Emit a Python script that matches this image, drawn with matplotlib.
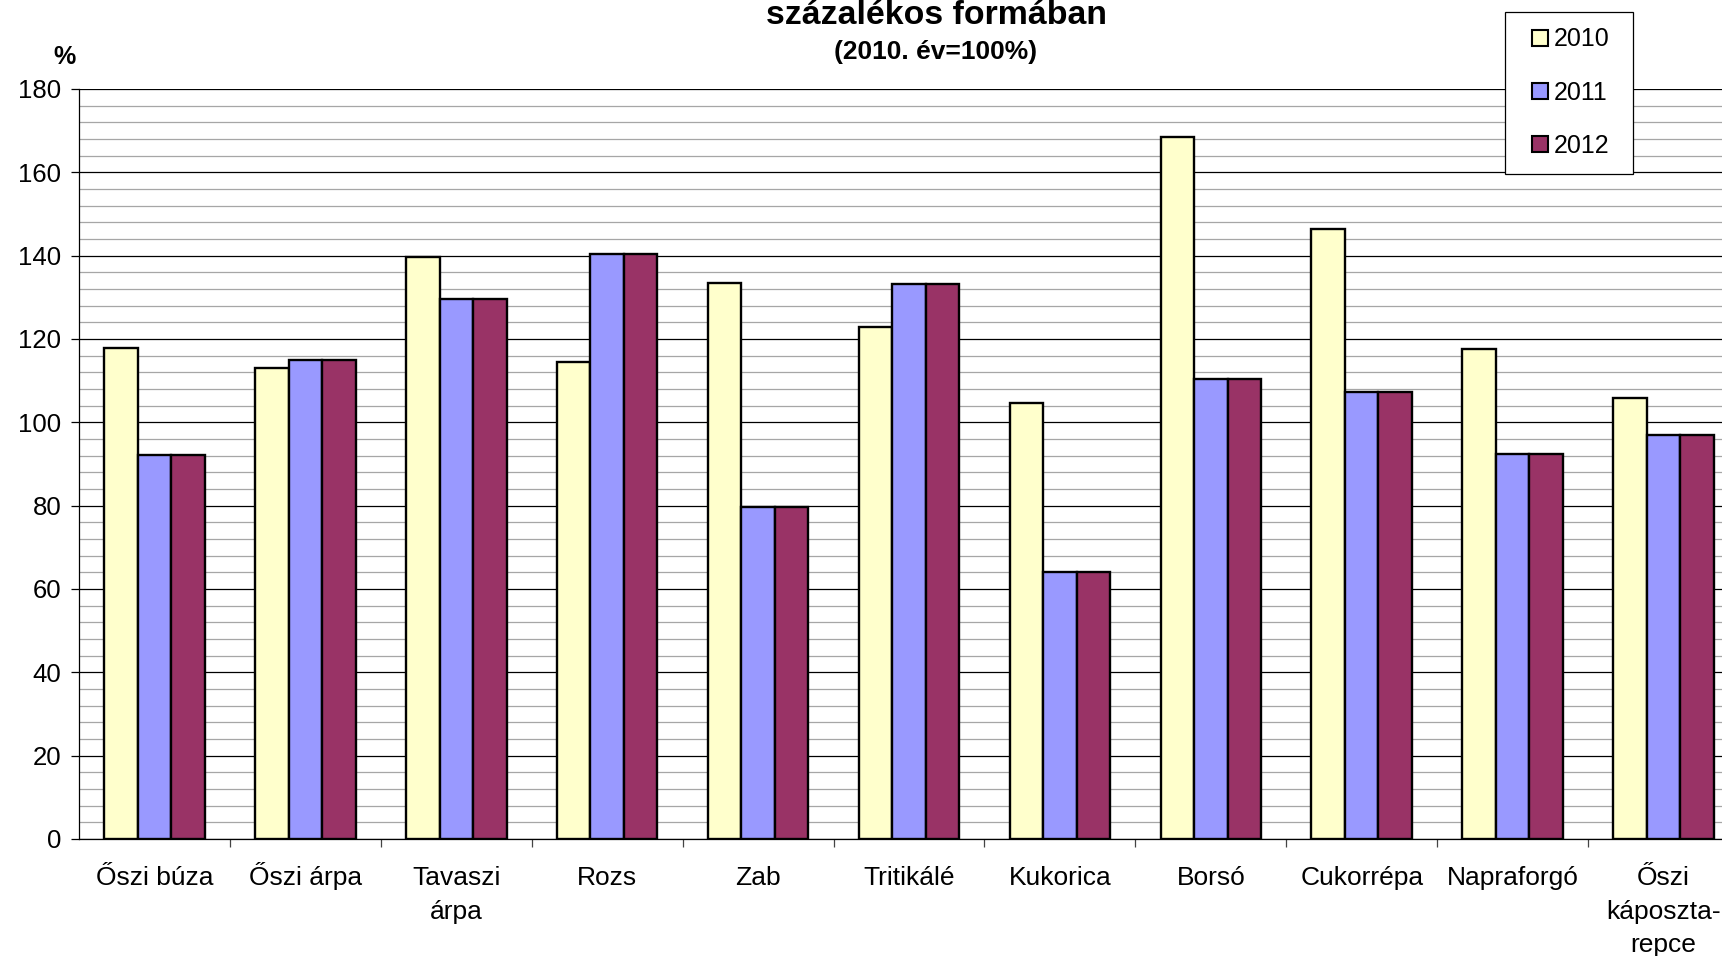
import numpy as np
import matplotlib
matplotlib.use('Agg')
import matplotlib.pyplot as plt
from matplotlib.lines import Line2D
from matplotlib.ticker import MultipleLocator, FixedLocator

plt.rcParams['font.family'] = ['Liberation Sans', 'DejaVu Sans']

# data
categories = ['Őszi búza', 'Őszi árpa', 'Tavaszi\nárpa', 'Rozs', 'Zab', 'Tritikálé',
              'Kukorica', 'Borsó', 'Cukorrépa', 'Napraforgó', 'Őszi\nkáposzta-\nrepce']
years = ['2010', '2011', '2012']
v2010 = [117.8, 113.0, 139.7, 114.4, 133.4, 122.8, 104.6, 168.5, 146.3, 117.6, 105.8]
v2011 = [92.2, 114.9, 129.7, 140.5, 79.6, 133.1, 64.0, 110.4, 107.3, 92.3, 97.0]
v2012 = [92.2, 114.9, 129.7, 140.5, 79.6, 133.1, 64.0, 110.4, 107.3, 92.3, 97.0]
colors = ['#FFFFCC', '#9999FF', '#993366']

W, H = 1722, 956
fig = plt.figure(figsize=(W/100, H/100), dpi=100)
# plot area runs past the right edge of the picture, as in the reference
ax = fig.add_axes([79/W, 117/H, 1660/W, 750/H])

x = np.arange(len(categories))
bw = 0.222
for i, (vals, c) in enumerate(zip([v2010, v2011, v2012], colors)):
    ax.bar(x + (i - 1)*bw, vals, width=bw, color=c, edgecolor='black',
           linewidth=1.7, zorder=3)

ax.set_xlim(-0.5, len(categories) - 0.5)
ax.set_ylim(0, 180)

# y axis: major every 20, minor gridlines every 4
ax.yaxis.set_major_locator(MultipleLocator(20))
ax.yaxis.set_minor_locator(MultipleLocator(4))
ax.grid(True, which='major', axis='y', color='black', linewidth=0.9, zorder=1)
ax.grid(True, which='minor', axis='y', color='#a6a6a6', linewidth=0.9, zorder=0)
ax.tick_params(axis='y', which='major', direction='out', length=5.8, width=0.9,
               pad=7, labelsize=18.5)
ax.tick_params(axis='y', which='minor', length=0)

# x axis: ticks at category boundaries, labels at centres
# labels padded to three lines so their first lines share one baseline
nl = max(c.count('\n') for c in categories)
ticklabels = [c + '\n' * (nl - c.count('\n')) for c in categories]
ax.xaxis.set_major_locator(FixedLocator(np.arange(0.5, len(categories) - 0.5, 1)))
ax.xaxis.set_major_formatter(plt.NullFormatter())
ax.xaxis.set_minor_locator(FixedLocator(x))
ax.set_xticklabels(ticklabels, minor=True, fontsize=19, linespacing=1.5)
ax.tick_params(axis='x', which='major', direction='out', length=5.8, width=0.9,
               color='#444444')
ax.tick_params(axis='x', which='minor', length=0, pad=81.5)
for lbl in ax.get_xticklabels(minor=True):
    lbl.set_verticalalignment('baseline')

for s in ['top', 'right']:
    ax.spines[s].set_visible(False)
for s in ['left', 'bottom']:
    ax.spines[s].set_linewidth(0.9)
ax.set_axisbelow(True)

# titles (first line of the title is cut off in the reference)
fig.text(936/W, 1 - 24/H, 'százalékos formában', ha='center', va='baseline',
         fontsize=24.4, fontweight='bold')
fig.text(936/W, 1 - 59/H, '(2010. év=100%)', ha='center', va='baseline',
         fontsize=19, fontweight='bold')
fig.text(64/W, 1 - 57.5/H, '%', ha='center', va='center', fontsize=18, fontweight='bold')

handles = [Line2D([], [], marker='s', linestyle='none', markersize=11,
                  markerfacecolor=c, markeredgecolor='black', markeredgewidth=1.5)
           for c in colors]
leg = fig.legend(handles, years, loc='upper left',
                 bbox_to_anchor=(1505/W, 1 - 170/H, 128/W, 158/H),
                 mode='expand', borderaxespad=0, fontsize=18, borderpad=0.62,
                 labelspacing=1.17, handlelength=1.55, handletextpad=-0.22,
                 fancybox=False, edgecolor='black', framealpha=1)
leg.get_frame().set_linewidth(0.9)

fig.savefig('out.png', dpi=100)
